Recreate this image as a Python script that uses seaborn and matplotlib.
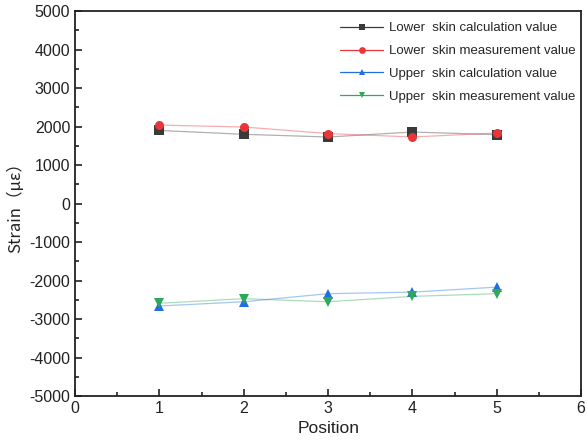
import pandas as pd
import matplotlib
matplotlib.use("Agg")
import matplotlib.pyplot as plt
import matplotlib.colors as mcolors
import seaborn as sns
from matplotlib.ticker import MultipleLocator

positions = [1, 2, 3, 4, 5]
lower_calc = [1900, 1800, 1730, 1860, 1790]
lower_meas = [2040, 1990, 1820, 1730, 1835]
upper_calc = [-2660, -2550, -2340, -2300, -2170]
upper_meas = [-2590, -2470, -2550, -2410, -2340]

series_names = ["Lower  skin calculation value", "Lower  skin measurement value",
                "Upper  skin calculation value", "Upper  skin measurement value"]
series_vals = [lower_calc, lower_meas, upper_calc, upper_meas]
colors = ["#3a3a3a", "#e8363a", "#1f6fe0", "#2fa85a"]
markers = ["s", "o", "^", "v"]

rows = []
for name, vals in zip(series_names, series_vals):
    for p, v in zip(positions, vals):
        rows.append({"Position": p, "Strain": v, "series": name})
df = pd.DataFrame(rows)

sns.set_style("ticks")
plt.rcParams['font.family'] = ['Liberation Sans', 'DejaVu Sans']
plt.rcParams['axes.unicode_minus'] = False

fig = plt.figure(figsize=(5.87, 4.46), dpi=100)
ax = fig.add_axes([0.128, 0.112, 0.862, 0.863])

for name, c, m in zip(series_names, colors, markers):
    sub = df[df["series"] == name]
    sns.lineplot(data=sub, x="Position", y="Strain", ax=ax, color=c, marker=m,
                 markersize=6.5, markeredgewidth=0, linewidth=0.9, label=name)

# pale connecting lines, full-colour markers
for line, c in zip(ax.get_lines(), colors):
    line.set_color(mcolors.to_rgba(c, 0.4))
    line.set_markerfacecolor(c)

ax.set_xlim(0, 6)
ax.set_ylim(-5000, 5000)
ax.xaxis.set_major_locator(MultipleLocator(1))
ax.xaxis.set_minor_locator(MultipleLocator(0.5))
ax.yaxis.set_major_locator(MultipleLocator(1000))
ax.yaxis.set_minor_locator(MultipleLocator(500))
ax.tick_params(which="both", direction="in", top=False, right=False,
               width=1.2, labelsize=11.5, colors="#222222")
ax.tick_params(which="major", length=5)
ax.tick_params(which="minor", length=3)
for s in ax.spines.values():
    s.set_linewidth(1.3)
    s.set_color("#222222")

ax.set_xlabel("Position", fontsize=12.5, color="#222222")
ax.set_ylabel("Strain（με）", fontsize=12, color="#222222",
              family=['Noto Sans CJK SC', 'DejaVu Sans'])

leg = ax.legend(loc="upper right", bbox_to_anchor=(0.995, 0.978), fontsize=9.5,
                frameon=False, borderaxespad=0, handlelength=3.3,
                labelspacing=0.8, borderpad=0.2, handletextpad=0.45,
                markerscale=0.75)
for h, c in zip(leg.get_lines(), colors):
    h.set_color(c)
    h.set_markerfacecolor(c)

fig.savefig("out.png", dpi=100)
